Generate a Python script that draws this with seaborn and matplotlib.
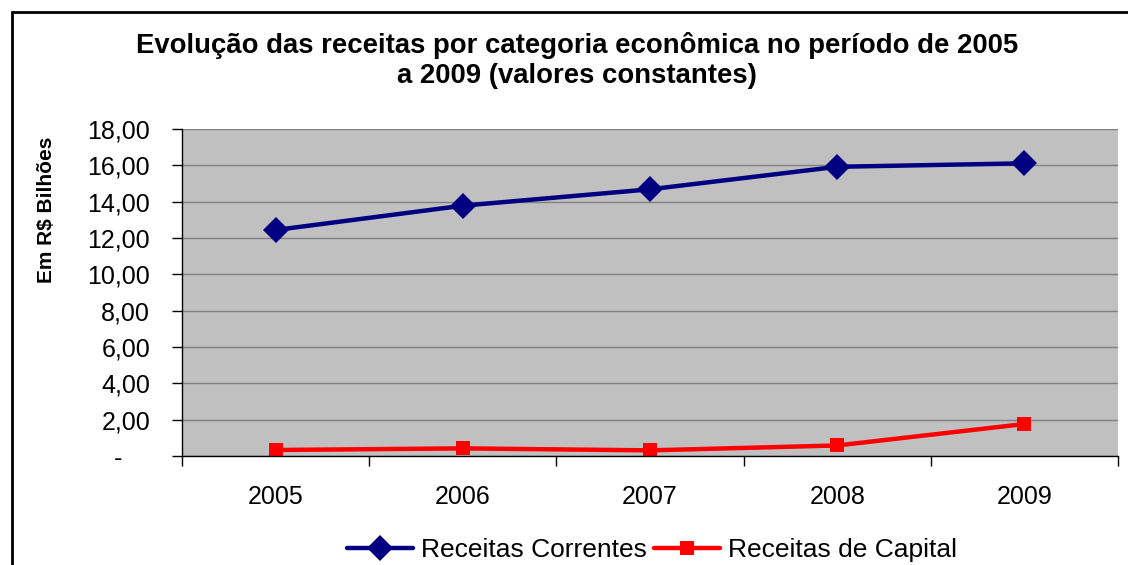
import matplotlib
matplotlib.use("Agg")
import matplotlib.pyplot as plt
import matplotlib.ticker as mticker
from matplotlib.patches import Rectangle
import seaborn as sns
import pandas as pd

# dados (R$ bilhoes, valores constantes)
anos = ["2005", "2006", "2007", "2008", "2009"]
receitas_correntes = [12.44, 13.78, 14.68, 15.92, 16.11]
receitas_capital = [0.33, 0.42, 0.31, 0.58, 1.76]
series = ["Receitas Correntes", "Receitas de Capital"]

df = pd.DataFrame({
    "ano": anos * 2,
    "valor": receitas_correntes + receitas_capital,
    "serie": [series[0]] * len(anos) + [series[1]] * len(anos),
})

sns.set_style("white")
plt.rcParams["font.family"] = ["Liberation Sans", "DejaVu Sans"]
plt.rcParams["text.color"] = "black"
plt.rcParams["xtick.color"] = "black"
plt.rcParams["ytick.color"] = "black"
plt.rcParams["axes.labelcolor"] = "black"

fig = plt.figure(figsize=(11.28, 5.65), dpi=100)
ax = fig.add_axes([182 / 1128, 109 / 565, 936 / 1128, 327 / 565])

# moldura externa
fig.patches.append(Rectangle((12 / 1128, -0.1), 1.2, (565 - 12) / 565 + 0.1,
                             transform=fig.transFigure, fill=False,
                             edgecolor="black", linewidth=2))

cores = {series[0]: "#000080", series[1]: "#FF0000"}
tam = {series[0]: 13, series[1]: 10}

sns.lineplot(data=df, x="ano", y="valor", hue="serie", style="serie",
             palette=cores, markers={series[0]: "D", series[1]: "s"},
             markersize=11, dashes=False, linewidth=3.2, ax=ax,
             markeredgewidth=0, legend=True)

# tamanhos de marcador diferentes por serie
for ln in ax.lines:
    for s in series:
        if matplotlib.colors.same_color(ln.get_color(), cores[s]):
            ln.set_markersize(tam[s])

ax.set_facecolor("#C0C0C0")
ax.set_xlim(-0.5, 4.5)
ax.set_ylim(0, 18)
ax.set_yticks(range(0, 19, 2))
ax.yaxis.set_major_formatter(mticker.FuncFormatter(
    lambda v, p: "-    " if v == 0 else f"{v:.2f}".replace(".", ",")))
ax.grid(axis="y", color="#808080", linewidth=1)
ax.set_axisbelow(True)

for s in ["top", "right"]:
    ax.spines[s].set_visible(False)
for s in ["left", "bottom"]:
    ax.spines[s].set_color("black")
    ax.spines[s].set_linewidth(1)

ax.tick_params(axis="y", direction="out", length=7, width=1, color="black",
               labelsize=18, pad=16, left=True)
ax.set_xticks(range(len(anos)))
ax.set_xticks([i - 0.5 for i in range(len(anos) + 1)], minor=True)
ax.tick_params(axis="x", which="major", length=0, labelsize=18, pad=21)
ax.tick_params(axis="x", which="minor", direction="out", length=7,
               width=1, color="black", bottom=True)

ax.set_xlabel("")
ax.set_ylabel("Em R$ Bilhões", fontsize=15, fontweight="bold")
ax.yaxis.set_label_coords((56 - 182) / 936, (456 - 210) / 327)

fig.suptitle("Evolução das receitas por categoria econômica no período de 2005\n"
             "a 2009 (valores constantes)",
             x=577 / 1128, y=1 - 32 / 565, fontsize=19.8, fontweight="bold",
             linespacing=1.2)

handles, labels = ax.get_legend_handles_labels()
for h, l in zip(handles, labels):
    h.set_markersize(tam[l])
ax.get_legend().remove()
fig.legend(handles, labels, loc="center", bbox_to_anchor=(652 / 1128, 15 / 565),
           ncol=2, frameon=False, fontsize=19, handlelength=2.5,
           columnspacing=0.3, handletextpad=0.3)

fig.savefig("out.png", dpi=100)
